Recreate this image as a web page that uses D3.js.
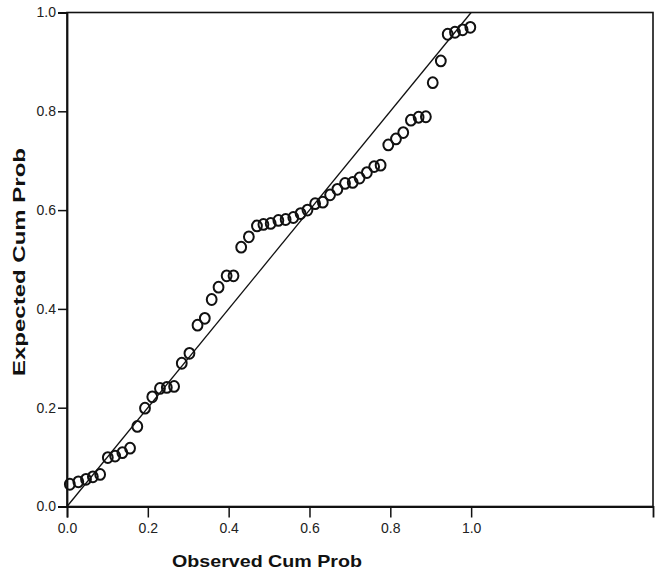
<!DOCTYPE html>
<html>
<head>
<meta charset="utf-8">
<script src="https://cdn.jsdelivr.net/npm/d3@7.9.0/dist/d3.min.js"></script>
<style>
  html, body { margin: 0; padding: 0; background: #fff; }
  svg { display: block; font-family: "Liberation Sans", Arial, sans-serif; }
</style>
</head>
<body>
<svg></svg>
<script>
const width = 659;
const height = 577;

// observed cumulative probability (x) and expected cumulative probability (y)
const observed = [0.007, 0.028, 0.047, 0.064, 0.082, 0.101, 0.119, 0.137, 0.156, 0.174,
  0.193, 0.211, 0.230, 0.247, 0.265, 0.284, 0.303, 0.323, 0.341, 0.358,
  0.375, 0.395, 0.412, 0.431, 0.450, 0.470, 0.486, 0.504, 0.523, 0.541,
  0.560, 0.578, 0.595, 0.614, 0.633, 0.651, 0.669, 0.688, 0.707, 0.724,
  0.742, 0.760, 0.776, 0.795, 0.814, 0.832, 0.851, 0.870, 0.888, 0.905,
  0.925, 0.942, 0.960, 0.979, 0.998];
const expected = [0.045, 0.050, 0.055, 0.060, 0.065, 0.099, 0.102, 0.109, 0.118, 0.162,
  0.199, 0.222, 0.239, 0.241, 0.243, 0.290, 0.310, 0.367, 0.381, 0.419,
  0.444, 0.467, 0.467, 0.525, 0.546, 0.568, 0.571, 0.573, 0.579, 0.581,
  0.585, 0.593, 0.600, 0.613, 0.616, 0.631, 0.642, 0.654, 0.656, 0.665,
  0.676, 0.688, 0.691, 0.732, 0.744, 0.757, 0.782, 0.788, 0.789, 0.858,
  0.902, 0.956, 0.960, 0.965, 0.970];
const tickValues = [0, 0.2, 0.4, 0.6, 0.8, 1.0];
const refLine = [[0, 0], [1, 1]];

const svg = d3.select("svg")
  .attr("width", width)
  .attr("height", height);

// the plot frame runs past 1.0 on the x side, as in the original
const x = d3.scaleLinear().domain([0, 1.45]).range([67, 653]);
const y = d3.scaleLinear().domain([0, 1]).range([506.5, 12.5]);

// frame
svg.append("rect")
  .attr("x", x(0))
  .attr("y", y(1))
  .attr("width", x(1.45) - x(0))
  .attr("height", y(0) - y(1))
  .attr("fill", "none")
  .attr("stroke", "#111")
  .attr("stroke-width", 1.6);

const fmt = d3.format(".1f");

const yAxis = svg.append("g")
  .attr("transform", `translate(${x(0)},0)`)
  .call(d3.axisLeft(y).tickValues(tickValues).tickFormat(fmt).tickSize(9).tickPadding(2));

const xAxis = svg.append("g")
  .attr("transform", `translate(0,${y(0)})`)
  .call(d3.axisBottom(x).tickValues(tickValues).tickFormat(fmt).tickSize(11).tickPadding(6));

[yAxis, xAxis].forEach(g => {
  g.select(".domain").attr("stroke", "#111").attr("stroke-width", 1.8);
  g.selectAll(".tick line").attr("stroke", "#111").attr("stroke-width", 1.5);
  g.selectAll(".tick text")
    .attr("fill", "#222")
    .attr("font-size", 14)
    .attr("font-family", "Liberation Sans, Arial, sans-serif");
});

// reference diagonal
const line = d3.line()
  .x(d => x(d[0]))
  .y(d => y(d[1]));

svg.append("path")
  .datum(refLine)
  .attr("fill", "none")
  .attr("stroke", "#111")
  .attr("stroke-width", 1.3)
  .attr("d", line);

// points
const points = observed.map((o, i) => ({ o, e: expected[i] }));

svg.append("g")
  .selectAll("ellipse")
  .data(points)
  .join("ellipse")
  .attr("cx", d => x(d.o))
  .attr("cy", d => y(d.e))
  .attr("rx", 4.9)
  .attr("ry", 5.4)
  .attr("fill", "none")
  .attr("stroke", "#111")
  .attr("stroke-width", 2);

// axis titles
svg.append("text")
  .attr("x", 267)
  .attr("y", 567)
  .attr("text-anchor", "middle")
  .attr("font-size", 17)
  .attr("font-weight", "bold")
  .attr("fill", "#111")
  .attr("textLength", 190)
  .attr("lengthAdjust", "spacingAndGlyphs")
  .text("Observed Cum Prob");

svg.append("text")
  .attr("transform", "translate(25,262) rotate(-90)")
  .attr("text-anchor", "middle")
  .attr("font-size", 17)
  .attr("font-weight", "bold")
  .attr("fill", "#111")
  .attr("textLength", 228)
  .attr("lengthAdjust", "spacingAndGlyphs")
  .text("Expected Cum Prob");
</script>
</body>
</html>
